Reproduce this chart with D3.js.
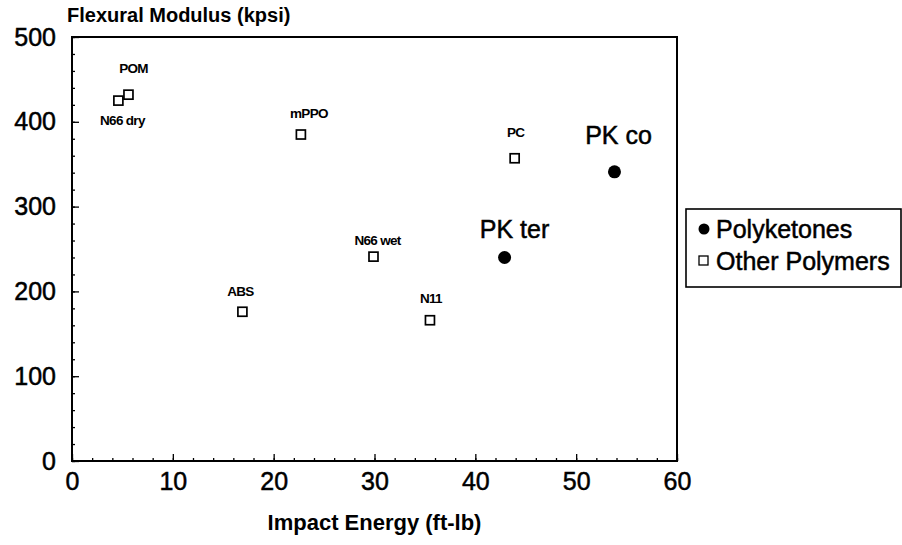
<!DOCTYPE html>
<html>
<head>
<meta charset="utf-8">
<script src="https://cdn.jsdelivr.net/npm/d3@7"></script>
<style>
  body { margin: 0; background: #fff; }
  svg text { font-family: "Liberation Sans", Arial, sans-serif; fill: #000; }
  .heavy { stroke: #000; stroke-width: 0.5px; }
</style>
</head>
<body>
<svg id="chart" width="902" height="545"></svg>
<script>
  // chart data
  var otherNames = ['N66 dry', 'POM', 'ABS', 'mPPO', 'N66 wet', 'N11', 'PC'];
  var otherImpact = [4.6, 5.6, 16.9, 22.7, 29.9, 35.5, 43.9];
  var otherModulus = [425, 432, 176, 385, 241, 166, 357];

  var pkNames = ['PK ter', 'PK co'];
  var pkImpact = [42.9, 53.8];
  var pkModulus = [240, 341];

  var xTicks = [0, 10, 20, 30, 40, 50, 60];
  var yTicks = [0, 100, 200, 300, 400, 500];

  // label offsets relative to the point (dx, dy), in px
  var otherLabelOffset = {
    'N66 dry': [4, 20], 'POM': [5, -26], 'ABS': [-2, -20], 'mPPO': [8, -21],
    'N66 wet': [4, -16], 'N11': [1, -22], 'PC': [1, -26]
  };
  var pkLabelOffset = { 'PK ter': [10, -28], 'PK co': [4, -37] };

  var svg = d3.select('#chart');
  var margin = { top: 37, left: 72, right: 225, bottom: 84 };
  var width = 902 - margin.left - margin.right;
  var height = 545 - margin.top - margin.bottom;

  var x = d3.scaleLinear().domain([0, 60]).range([0, width]);
  var y = d3.scaleLinear().domain([0, 500]).range([height, 0]);

  var g = svg.append('g')
    .attr('transform', 'translate(' + margin.left + ',' + margin.top + ')');

  // minor ticks
  g.append('g')
    .attr('transform', 'translate(0,' + height + ')')
    .call(d3.axisBottom(x).tickValues(d3.range(0, 61, 2)).tickSize(-3).tickFormat(''))
    .call(function(a) { a.select('.domain').remove(); });
  g.append('g')
    .call(d3.axisLeft(y).tickValues(d3.range(0, 501, 20)).tickSize(-3).tickFormat(''))
    .call(function(a) { a.select('.domain').remove(); });

  // major ticks with labels
  var xAxis = g.append('g')
    .attr('transform', 'translate(0,' + height + ')')
    .call(d3.axisBottom(x).tickValues(xTicks).tickSize(-7).tickPadding(11));
  xAxis.select('.domain').remove();
  xAxis.selectAll('text').attr('class', 'heavy').style('font-size', '25px').attr('dy', '0.71em');

  var yAxis = g.append('g')
    .call(d3.axisLeft(y).tickValues(yTicks).tickSize(-7).tickPadding(16));
  yAxis.select('.domain').remove();
  yAxis.selectAll('text').attr('class', 'heavy').style('font-size', '25px');

  g.selectAll('.tick line').attr('stroke', '#000').attr('stroke-width', 1.3);

  // frame
  g.append('rect')
    .attr('x', 0).attr('y', 0)
    .attr('width', width).attr('height', height)
    .attr('fill', 'none').attr('stroke', '#000').attr('stroke-width', 2);

  // axis titles
  svg.append('text')
    .attr('x', 67).attr('y', 22)
    .style('font-size', '20px').style('font-weight', 'bold')
    .text('Flexural Modulus (kpsi)');
  svg.append('text')
    .attr('x', margin.left + width / 2).attr('y', 530)
    .attr('text-anchor', 'middle')
    .style('font-size', '22px').style('font-weight', 'bold')
    .text('Impact Energy (ft-lb)');

  // other polymers: open squares
  var other = otherNames.map(function(n, i) {
    return { name: n, impact: otherImpact[i], modulus: otherModulus[i] };
  });
  var sq = 9;
  g.selectAll('.other')
    .data(other)
    .enter().append('rect')
    .attr('class', 'other')
    .attr('x', function(d) { return x(d.impact) - sq / 2; })
    .attr('y', function(d) { return y(d.modulus) - sq / 2; })
    .attr('width', sq).attr('height', sq)
    .attr('fill', '#fff').attr('stroke', '#000').attr('stroke-width', 1.7);
  g.selectAll('.other-label')
    .data(other)
    .enter().append('text')
    .attr('class', 'other-label')
    .attr('x', function(d) { return x(d.impact) + otherLabelOffset[d.name][0]; })
    .attr('y', function(d) { return y(d.modulus) + otherLabelOffset[d.name][1]; })
    .attr('text-anchor', 'middle')
    .attr('dy', '0.35em')
    .style('font-size', '13.5px').style('font-weight', 'bold').style('letter-spacing', '-0.7px')
    .text(function(d) { return d.name; });

  // polyketones: filled circles
  var pk = pkNames.map(function(n, i) {
    return { name: n, impact: pkImpact[i], modulus: pkModulus[i] };
  });
  g.selectAll('.pk')
    .data(pk)
    .enter().append('circle')
    .attr('class', 'pk')
    .attr('cx', function(d) { return x(d.impact); })
    .attr('cy', function(d) { return y(d.modulus); })
    .attr('r', 6.5)
    .attr('fill', '#000');
  g.selectAll('.pk-label')
    .data(pk)
    .enter().append('text')
    .attr('class', 'pk-label heavy')
    .attr('x', function(d) { return x(d.impact) + pkLabelOffset[d.name][0]; })
    .attr('y', function(d) { return y(d.modulus) + pkLabelOffset[d.name][1]; })
    .attr('text-anchor', 'middle')
    .attr('dy', '0.35em')
    .style('font-size', '25px')
    .text(function(d) { return d.name; });

  // legend
  var lg = svg.append('g').attr('transform', 'translate(686,209)');
  lg.append('rect')
    .attr('width', 215).attr('height', 78)
    .attr('fill', '#fff').attr('stroke', '#000').attr('stroke-width', 1.6);
  lg.append('circle').attr('cx', 18).attr('cy', 20).attr('r', 5.5).attr('fill', '#000');
  lg.append('text').attr('class', 'heavy').attr('x', 30).attr('y', 20).attr('dy', '0.35em')
    .style('font-size', '25px').text('Polyketones');
  lg.append('rect').attr('x', 13).attr('y', 47).attr('width', 9).attr('height', 9)
    .attr('fill', '#fff').attr('stroke', '#000').attr('stroke-width', 1.3);
  lg.append('text').attr('class', 'heavy').attr('x', 30).attr('y', 52).attr('dy', '0.35em')
    .style('font-size', '25px').text('Other Polymers');
</script>
</body>
</html>
